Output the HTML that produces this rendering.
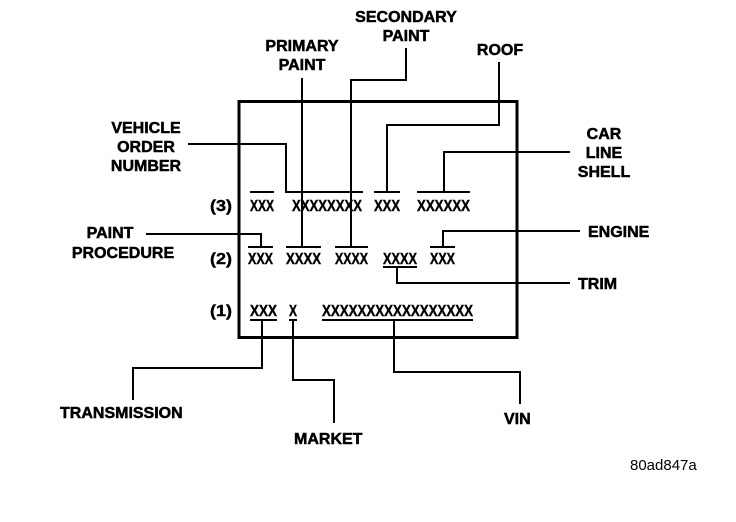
<!DOCTYPE html>
<html><head><meta charset="utf-8"><style>
html,body{margin:0;padding:0;background:#fff;}
svg{display:block}
text{font-family:"Liberation Sans",sans-serif;font-weight:bold;fill:#000}
.l{font-size:16px;stroke:#000;stroke-width:0.5}
.x{font-size:16px;stroke:#000;stroke-width:0.4}
</style></head><body>
<svg width="736" height="522" viewBox="0 0 736 522" xmlns="http://www.w3.org/2000/svg">
<rect x="239" y="101.5" width="278" height="236" fill="none" stroke="#000" stroke-width="3"/>
<g stroke="#000" stroke-width="2" fill="none">
<line x1="250" y1="192" x2="274" y2="192"/>
<line x1="285" y1="192" x2="363" y2="192"/>
<line x1="374" y1="192" x2="400" y2="192"/>
<line x1="417" y1="192" x2="470" y2="192"/>
<line x1="248" y1="247" x2="273" y2="247"/>
<line x1="286" y1="247" x2="321" y2="247"/>
<line x1="335" y1="247" x2="368" y2="247"/>
<line x1="383" y1="267" x2="417" y2="267"/>
<line x1="430" y1="247" x2="455" y2="247"/>
<line x1="250" y1="320" x2="277" y2="320"/>
<line x1="289" y1="320" x2="297" y2="320"/>
<line x1="322" y1="320" x2="473" y2="320"/>
<polyline points="188,144 286,144 286,192"/>
<polyline points="302,78 302,247"/>
<polyline points="406,48 406,80 351,80 351,247"/>
<polyline points="499,62 499,125 387,125 387,192"/>
<polyline points="570,152 444,152 444,192"/>
<polyline points="146,234 261,234 261,247"/>
<polyline points="580,231 443,231 443,247"/>
<polyline points="397,267 397,283 570,283"/>
<polyline points="262,320 262,368 133,368 133,400"/>
<polyline points="293,320 293,380 334,380 334,423"/>
<polyline points="394,320 394,372 520,372 520,404"/>
</g>
<text class="x" x="210" y="211" textLength="22" lengthAdjust="spacingAndGlyphs">(3)</text>
<text class="x" x="210" y="264" textLength="22" lengthAdjust="spacingAndGlyphs">(2)</text>
<text class="x" x="210" y="316" textLength="22" lengthAdjust="spacingAndGlyphs">(1)</text>
<text class="x" x="250" y="211" textLength="24" lengthAdjust="spacingAndGlyphs">XXX</text>
<text class="x" x="292" y="211" textLength="70" lengthAdjust="spacingAndGlyphs">XXXXXXXX</text>
<text class="x" x="374" y="211" textLength="26" lengthAdjust="spacingAndGlyphs">XXX</text>
<text class="x" x="417" y="211" textLength="53" lengthAdjust="spacingAndGlyphs">XXXXXX</text>
<text class="x" x="248" y="264" textLength="25" lengthAdjust="spacingAndGlyphs">XXX</text>
<text class="x" x="286" y="264" textLength="35" lengthAdjust="spacingAndGlyphs">XXXX</text>
<text class="x" x="335" y="264" textLength="33" lengthAdjust="spacingAndGlyphs">XXXX</text>
<text class="x" x="383" y="264" textLength="34" lengthAdjust="spacingAndGlyphs">XXXX</text>
<text class="x" x="430" y="264" textLength="25" lengthAdjust="spacingAndGlyphs">XXX</text>
<text class="x" x="250" y="316" textLength="27" lengthAdjust="spacingAndGlyphs">XXX</text>
<text class="x" x="289" y="316" textLength="8" lengthAdjust="spacingAndGlyphs">X</text>
<text class="x" x="322" y="316" textLength="151" lengthAdjust="spacingAndGlyphs">XXXXXXXXXXXXXXXXX</text>
<text class="l" x="406" y="22" text-anchor="middle">SECONDARY</text>
<text class="l" x="406" y="41" text-anchor="middle">PAINT</text>
<text class="l" x="302" y="51" text-anchor="middle">PRIMARY</text>
<text class="l" x="302" y="70" text-anchor="middle">PAINT</text>
<text class="l" x="500" y="55" text-anchor="middle">ROOF</text>
<text class="l" x="146" y="133" text-anchor="middle">VEHICLE</text>
<text class="l" x="146" y="152" text-anchor="middle">ORDER</text>
<text class="l" x="146" y="171" text-anchor="middle">NUMBER</text>
<text class="l" x="604" y="139" text-anchor="middle">CAR</text>
<text class="l" x="604" y="158" text-anchor="middle">LINE</text>
<text class="l" x="604" y="177" text-anchor="middle">SHELL</text>
<text class="l" x="110" y="238" text-anchor="middle">PAINT</text>
<text class="l" x="123" y="258" text-anchor="middle">PROCEDURE</text>
<text class="l" x="588" y="237">ENGINE</text>
<text class="l" x="578" y="289">TRIM</text>
<text class="l" x="60" y="418">TRANSMISSION</text>
<text class="l" x="294" y="444">MARKET</text>
<text class="l" x="504" y="424">VIN</text>
<text x="630" y="470" style="font-weight:normal;font-size:15px">80ad847a</text>
</svg>
</body></html>
